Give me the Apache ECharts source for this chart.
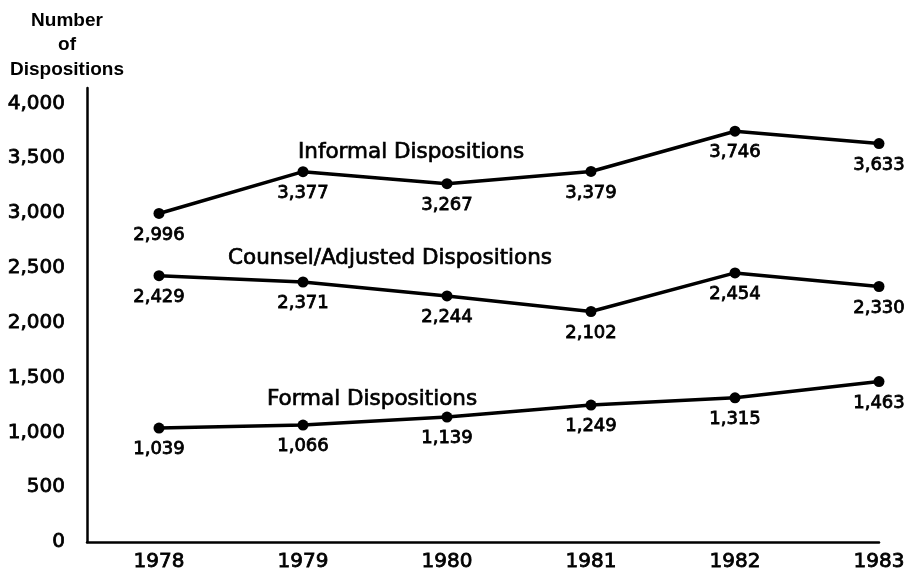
<!DOCTYPE html>
<html>
<head>
<meta charset="utf-8">
<script src="https://cdn.jsdelivr.net/npm/echarts@6/dist/echarts.min.js"></script>
<style>html,body{margin:0;padding:0;background:#fff}#c{width:917px;height:573px}</style>
</head>
<body>
<div id="c"></div>
<script>
var years = [1978, 1979, 1980, 1981, 1982, 1983];
var informal = [2996, 3377, 3267, 3379, 3746, 3633];
var counsel = [2429, 2371, 2244, 2102, 2454, 2330];
var formal = [1039, 1066, 1139, 1249, 1315, 1463];
var yTicks = [0, 500, 1000, 1500, 2000, 2500, 3000, 3500, 4000];
var seriesNames = ['Informal Dispositions', 'Counsel/Adjusted Dispositions', 'Formal Dispositions'];
var titleLines = ['Number', 'of', 'Dispositions'];

var FONT = 'DejaVu Sans';
var heavy = {textBorderColor: '#000', textBorderWidth: 0.8};
function fmt(v){ return v.toLocaleString('en-US'); }
function pairs(arr){ return years.map(function(y,i){ return [y, arr[i]]; }); }
function mk(name, arr){
  return {
    name: name, type: 'line', data: pairs(arr),
    symbol: 'circle', symbolSize: 11,
    lineStyle: {color: '#000', width: 3.5},
    itemStyle: {color: '#000'},
    label: Object.assign({show: true, position: 'bottom', distance: 7,
      color: '#000', fontFamily: FONT, fontSize: 18,
      formatter: function(p){ return fmt(p.value[1]); }}, heavy),
    emphasis: {disabled: true}, animation: false, z: 3
  };
}
function txt(s, x, y, font, extra){
  var st = {text: s, align: 'center', verticalAlign: 'middle', fill: '#000', font: font};
  if (extra) { st.stroke = '#000'; st.lineWidth = 0.7; }
  return {type: 'text', x: x, y: y, style: st};
}
var chart = echarts.init(document.getElementById('c'));
chart.setOption({
  backgroundColor: '#fff',
  animation: false,
  grid: {left: 87, right: 38, top: 88, bottom: 31},
  xAxis: {
    type: 'value', min: 1977.5, max: 1983,
    axisLine: {show: true, lineStyle: {color: '#000', width: 2.5}},
    axisTick: {show: false},
    splitLine: {show: false},
    axisLabel: Object.assign({customValues: years, color: '#000', fontFamily: FONT, fontSize: 20, margin: 10,
      formatter: function(v){ return String(v); }}, heavy)
  },
  yAxis: {
    type: 'value', min: 0, max: 4140,
    axisLine: {show: true, lineStyle: {color: '#000', width: 2.5}},
    axisTick: {show: false},
    splitLine: {show: false},
    axisLabel: Object.assign({customValues: yTicks, color: '#000', fontFamily: FONT, fontSize: 20, margin: 22,
      formatter: function(v){ return fmt(v); }}, heavy)
  },
  graphic: [
    txt(titleLines[0], 67, 21, 'bold 19px "Liberation Sans"'),
    txt(titleLines[1], 67, 45, 'bold 19px "Liberation Sans"'),
    txt(titleLines[2], 67, 70, 'bold 19px "Liberation Sans"'),
    txt(seriesNames[0], 411, 152, '21.5px "DejaVu Sans"', true),
    txt(seriesNames[1], 390, 258, '21.5px "DejaVu Sans"', true),
    txt(seriesNames[2], 372, 399, '21.5px "DejaVu Sans"', true)
  ],
  series: [mk(seriesNames[0], informal), mk(seriesNames[1], counsel), mk(seriesNames[2], formal)]
});
</script>
</body>
</html>
